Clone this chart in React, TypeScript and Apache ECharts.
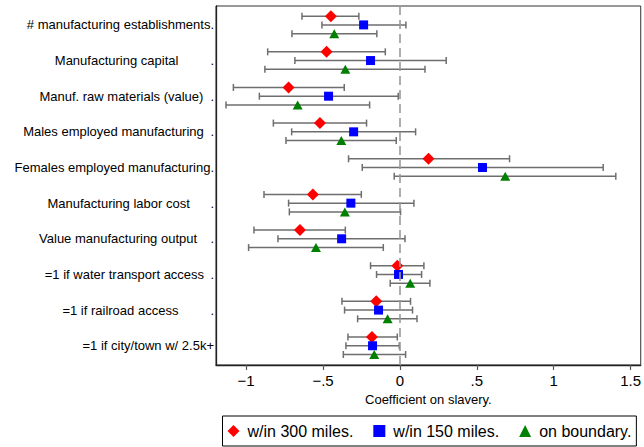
import React, { useEffect, useRef } from "react";
import * as echarts from "echarts";

const categories = [
  "# manufacturing establishments",
  "Manufacturing capital",
  "Manuf. raw materials (value)",
  "Males employed manufacturing",
  "Females employed manufacturing",
  "Manufacturing labor cost",
  "Value manufacturing output",
  "=1 if water transport access",
  "=1 if railroad access",
  "=1 if city/town w/ 2.5k+",
];

const seriesNames = ["w/in 300 miles.", "w/in 150 miles.", "on boundary."];

const est300 = [-0.449, -0.477, -0.724, -0.52, 0.186, -0.566, -0.65, -0.017, -0.154, -0.182];
const lo300 = [-0.637, -0.86, -1.083, -0.823, -0.334, -0.884, -0.949, -0.191, -0.377, -0.338];
const hi300 = [-0.267, -0.095, -0.362, -0.217, 0.713, -0.251, -0.355, 0.156, 0.069, -0.017];

const est150 = [-0.236, -0.191, -0.464, -0.301, 0.537, -0.319, -0.379, -0.009, -0.139, -0.178];
const lo150 = [-0.507, -0.683, -0.914, -0.704, -0.245, -0.724, -0.793, -0.152, -0.36, -0.351];
const hi150 = [0.039, 0.301, -0.011, 0.102, 1.322, 0.091, 0.033, 0.141, 0.082, -0.004];

const estBnd = [-0.427, -0.355, -0.665, -0.381, 0.685, -0.358, -0.546, 0.067, -0.08, -0.167];
const loBnd = [-0.702, -0.878, -1.131, -0.741, -0.037, -0.719, -0.984, -0.063, -0.275, -0.368];
const hiBnd = [-0.15, 0.163, -0.197, -0.024, 1.404, 0.004, -0.108, 0.195, 0.111, 0.037];

const xTicks = [-1, -0.5, 0, 0.5, 1, 1.5];
const yTicks = [1, 2, 3, 4, 5, 6, 7, 8, 9, 10];
const refValue = 0;

// layout / style settings (not data)
const rowOffsets = [-0.245, 0, 0.245];
const dotGaps: (number | null)[] = [0, 32, 7, 6.6, 0, 20.6, 13.3, 6.3, 32, null];
const FONT = "'Liberation Sans', Arial, Helvetica, sans-serif";

function fmtTick(v: number): string {
  if (v === 0) return "0";
  const abs = Math.abs(v);
  let s = String(abs);
  if (s.startsWith("0.")) s = s.slice(1);
  return (v < 0 ? "\u2212" : "") + s;
}

export default function App() {
  const ref = useRef<HTMLDivElement>(null);

  useEffect(() => {
    if (!ref.current) return;
    const chart = echarts.init(ref.current, undefined, { renderer: "svg" });

    const groups = [
      { name: seriesNames[0], est: est300, lo: lo300, hi: hi300, symbol: "diamond", size: [12, 12], color: "#ff0000" },
      { name: seriesNames[1], est: est150, lo: lo150, hi: hi150, symbol: "rect", size: [9, 9], color: "#0000ff" },
      { name: seriesNames[2], est: estBnd, lo: loBnd, hi: hiBnd, symbol: "triangle", size: [10, 9], color: "#008000" },
    ];

    const errData: number[][] = [];
    groups.forEach((g, s) => {
      categories.forEach((_, i) => {
        errData.push([g.lo[i], g.hi[i], i + 1 + rowOffsets[s]]);
      });
    });

    const rich: any = { t: { fontSize: 13, color: "#000", fontFamily: FONT } };
    dotGaps.forEach((g, i) => {
      rich["d" + i] = { fontSize: 13, color: "#000", fontFamily: FONT, padding: [0, 0, 0, g ?? 0] };
    });

    const option: any = {
      animation: false,
      textStyle: { fontFamily: FONT },
      grid: {
        left: 216,
        top: 6,
        width: 425,
        height: 359,
        show: true,
        borderColor: "#333",
        borderWidth: 1,
        containLabel: false,
      },
      legend: {
        left: 222.5,
        top: 416,
        orient: "horizontal",
        selectedMode: false,
        padding: [7, 5, 7, 5],
        itemWidth: 12,
        itemHeight: 12,
        itemGap: 20,
        borderColor: "#000",
        borderWidth: 1,
        textStyle: { fontSize: 16, color: "#000", fontFamily: FONT, padding: [0, 0, 0, 3] },
        data: groups.map((g) => ({ name: g.name, icon: g.symbol, itemStyle: { color: g.color } })),
      },
      xAxis: {
        type: "value",
        min: -1.196,
        max: 1.566,
        name: "Coefficient on slavery.",
        nameLocation: "middle",
        nameGap: 26,
        nameTextStyle: { fontSize: 13, color: "#000", fontFamily: FONT },
        axisLine: { show: true, onZero: false, lineStyle: { color: "#222", width: 1.3 } },
        axisTick: { show: true, length: 5, customValues: xTicks, lineStyle: { color: "#555", width: 1.2 } },
        axisLabel: {
          customValues: xTicks,
          formatter: (v: number) => fmtTick(v),
          fontSize: 15,
          color: "#000",
          margin: 8,
          fontFamily: FONT,
        },
        splitLine: { show: false },
      },
      yAxis: {
        type: "value",
        inverse: true,
        min: 0.47,
        max: 10.54,
        axisLine: { show: true, onZero: false, lineStyle: { color: "#222", width: 1.3 } },
        axisTick: { show: false },
        splitLine: { show: false },
        axisLabel: {
          customValues: yTicks,
          margin: 2,
          formatter: (v: number) => {
            const i = Math.round(v) - 1;
            const name = categories[i];
            if (name == null) return "";
            const g = dotGaps[i];
            return g == null ? `{t|${name}}` : `{t|${name}}{d${i}|.}`;
          },
          rich,
        },
      },
      series: [
        {
          type: "custom",
          name: "ci",
          z: 3,
          data: errData,
          encode: { x: [0, 1], y: 2 },
          renderItem: (params: any, api: any) => {
            const y = api.value(2);
            const a = api.coord([api.value(0), y]);
            const b = api.coord([api.value(1), y]);
            const h = 3.5;
            const style = { stroke: "#6e6e6e", lineWidth: 1.5 };
            return {
              type: "group",
              children: [
                { type: "line", shape: { x1: a[0], y1: a[1], x2: b[0], y2: b[1] }, style },
                { type: "line", shape: { x1: a[0], y1: a[1] - h, x2: a[0], y2: a[1] + h }, style },
                { type: "line", shape: { x1: b[0], y1: b[1] - h, x2: b[0], y2: b[1] + h }, style },
              ],
            };
          },
        },
        {
          type: "line",
          name: "ref",
          z: 2,
          data: [],
          markLine: {
            silent: true,
            symbol: ["none", "none"],
            label: { show: false },
            lineStyle: { color: "#9a9a9a", width: 1.6, type: [9, 5], opacity: 1 },
            emphasis: { disabled: true },
            data: [{ xAxis: refValue }],
          },
        },
        ...groups.map((g, s) => ({
          type: "scatter",
          name: g.name,
          z: 4,
          symbol: g.symbol,
          symbolSize: g.size,
          itemStyle: { color: g.color, opacity: 1 },
          data: g.est.map((v, i) => [v, i + 1 + rowOffsets[s]]),
        })),
      ],
    };

    chart.setOption(option);
    return () => chart.dispose();
  }, []);

  return (
    <div
      ref={ref}
      style={{ position: "absolute", left: 0, top: 0, width: 644, height: 447, background: "#fff" }}
    />
  );
}
